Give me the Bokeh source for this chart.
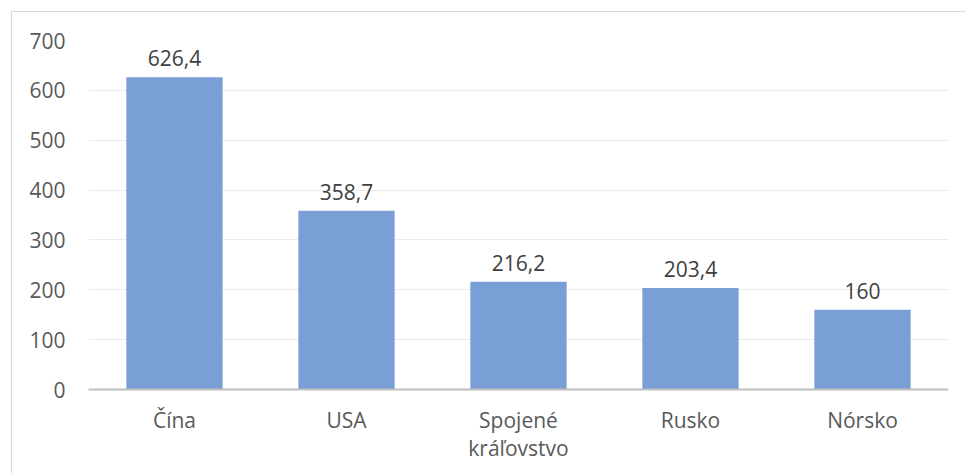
from bokeh.plotting import figure
from bokeh.models import ColumnDataSource, Range1d, FactorRange
from bokeh.core.properties import value
from bokeh.embed import file_html
from bokeh.resources import INLINE

categories = ["Čína", "USA", "Spojené\nkráľovstvo", "Rusko", "Nórsko"]
values = [626.4, 358.7, 216.2, 203.4, 160]
labels = ["626,4", "358,7", "216,2", "203,4", "160"]

FONT = "Open Sans"
FS = "21px"
src = ColumnDataSource(dict(cat=categories, val=values, lab=labels))

p = figure(width=955, height=462, x_range=FactorRange(*categories, range_padding=0),
           y_range=Range1d(0, 700), output_backend="svg", toolbar_location=None,
           min_border_left=76, min_border_right=19, min_border_top=28, min_border_bottom=85)
p.outline_line_color = None
p.styles = {"margin-left": "11px", "margin-top": "11px",
            "border-left": "1px solid #D9D9D9", "border-top": "1px solid #D9D9D9"}

p.vbar(x="cat", top="val", width=0.56, source=src, fill_color="#7A9ED6", line_color=None)
p.text(x="cat", y="val", text="lab", source=src, text_align="center", text_baseline="middle",
       y_offset=-19, text_font=value(FONT), text_font_size=FS, text_color="#404040")

p.yaxis.ticker = [0, 100, 200, 300, 400, 500, 600, 700]
p.yaxis.axis_line_color = None
p.yaxis.major_tick_line_color = None
p.yaxis.minor_tick_line_color = None
p.yaxis.major_label_standoff = 17
p.yaxis.major_label_text_font = FONT
p.yaxis.major_label_text_font_size = FS
p.yaxis.major_label_text_color = "#595959"

p.xaxis.axis_line_color = "#BFBFBF"
p.xaxis.axis_line_width = 2
p.xaxis.major_tick_line_color = None
p.xaxis.minor_tick_line_color = None
p.xaxis.major_label_standoff = 10
p.xaxis.major_label_text_font = FONT
p.xaxis.major_label_text_font_size = FS
p.xaxis.major_label_text_line_height = 1.0
p.xaxis.major_label_text_color = "#595959"

p.xgrid.grid_line_color = None
p.ygrid.grid_line_color = "#EBEBEB"
p.ygrid.grid_line_width = 1

open("out.html", "w").write(file_html(p, INLINE))
